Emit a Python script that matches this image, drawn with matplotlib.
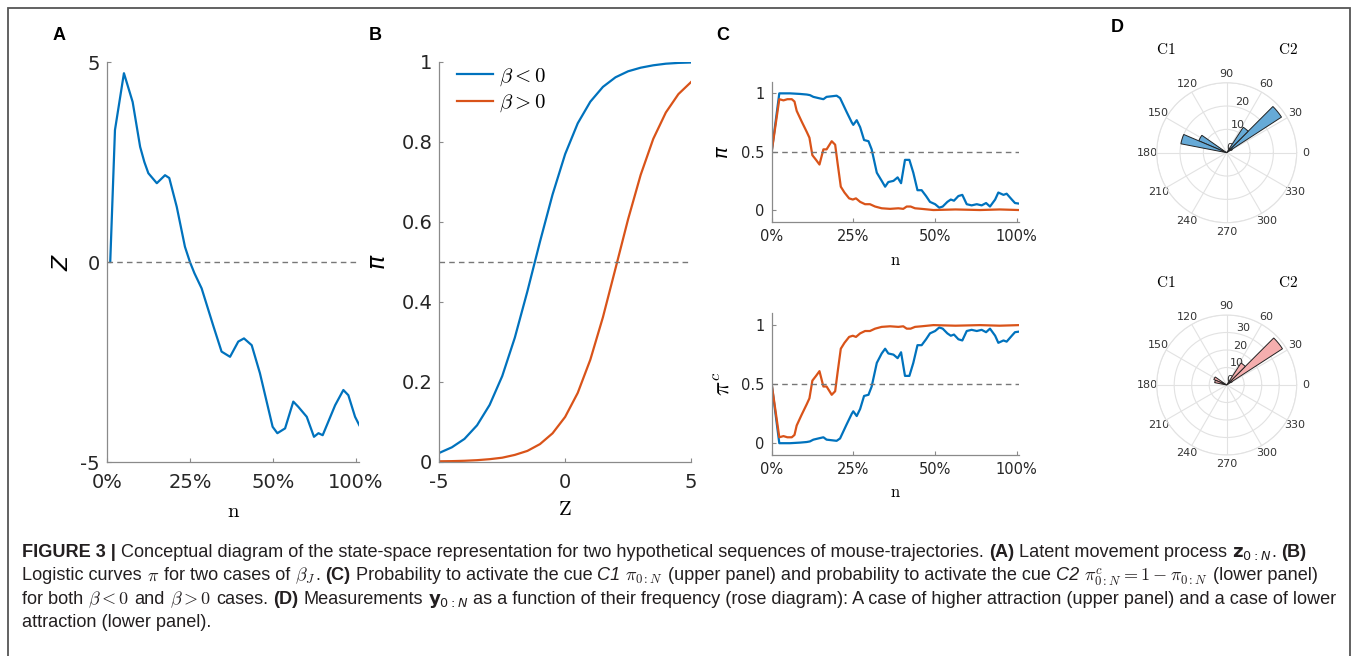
import matplotlib
matplotlib.use('Agg')
import matplotlib.pyplot as plt
import numpy as np
from matplotlib.patches import Rectangle

W, H = 1358, 656
BLUE = '#0072BD'
RED = '#D95319'
GRAY = '#8a8a8a'

# panel A: latent process z over n (n as fraction of the axis, ticks are evenly spaced)
n_a = [0.013, 0.032, 0.068, 0.103, 0.133, 0.150, 0.166, 0.200, 0.233, 0.250, 0.280, 0.313,
       0.333, 0.351, 0.380, 0.427, 0.460, 0.494, 0.527, 0.550, 0.581, 0.614, 0.665, 0.684,
       0.715, 0.748, 0.768, 0.802, 0.831, 0.849, 0.866, 0.916, 0.949, 0.969, 0.996, 1.013]
z_a = [0, 3.3, 4.72, 4.0, 2.88, 2.5, 2.22, 1.97, 2.17, 2.1, 1.38, 0.38,
       0, -0.28, -0.66, -1.6, -2.24, -2.37, -1.99, -1.91, -2.08, -2.78, -4.12, -4.28,
       -4.16, -3.49, -3.62, -3.87, -4.37, -4.28, -4.33, -3.58, -3.2, -3.33, -3.87, -4.08]
pct_pos = [0, 1/3, 2/3, 1]
pct_labels = ['0%', '25%', '50%', '100%']

# panel B: logistic curves read at Z = -5 .. 5 (step 0.5)
z_b = [-5, -4.5, -4, -3.5, -3, -2.5, -2, -1.5, -1, -0.5, 0, 0.5, 1, 1.5, 2, 2.5, 3, 3.5, 4, 4.5, 5]
pi_neg = [0.022, 0.036, 0.057, 0.091, 0.142, 0.214, 0.310, 0.426, 0.550, 0.668, 0.769, 0.846,
          0.900, 0.937, 0.961, 0.976, 0.985, 0.991, 0.995, 0.997, 0.998]
pi_pos = [0.001, 0.0014, 0.0023, 0.0038, 0.0063, 0.010, 0.017, 0.027, 0.044, 0.071, 0.112, 0.172,
          0.255, 0.361, 0.483, 0.606, 0.717, 0.807, 0.873, 0.919, 0.949]

# panel C: probability of activating C1 (upper) and C2 (lower)
n_c_blue = [0.0, 0.031, 0.075, 0.116, 0.143, 0.156, 0.17, 0.19, 0.211, 0.224, 0.245, 0.265,
            0.279, 0.306, 0.327, 0.333, 0.347, 0.361, 0.377, 0.395, 0.408, 0.429, 0.449, 0.463,
            0.476, 0.497, 0.514, 0.528, 0.544, 0.562, 0.578, 0.595, 0.612, 0.63, 0.646, 0.667,
            0.684, 0.698, 0.717, 0.731, 0.744, 0.762, 0.778, 0.796, 0.816, 0.837, 0.857, 0.875,
            0.891, 0.912, 0.925, 0.946, 0.959, 0.98, 0.993, 1.01]
pi_blue = [0.5, 1.0, 1.0, 0.995, 0.99, 0.985, 0.97, 0.96, 0.95, 0.97, 0.975, 0.98,
           0.96, 0.84, 0.75, 0.73, 0.77, 0.71, 0.6, 0.59, 0.52, 0.32, 0.25, 0.2,
           0.24, 0.25, 0.28, 0.23, 0.43, 0.43, 0.32, 0.17, 0.17, 0.12, 0.07, 0.05,
           0.02, 0.03, 0.07, 0.09, 0.08, 0.12, 0.13, 0.05, 0.04, 0.05, 0.04, 0.06,
           0.03, 0.09, 0.15, 0.13, 0.14, 0.09, 0.06, 0.055]
pic_blue = [0.5, 0.0, 0.0, 0.005, 0.01, 0.015, 0.03, 0.04, 0.05, 0.03, 0.025, 0.02,
            0.04, 0.16, 0.25, 0.27, 0.23, 0.29, 0.4, 0.41, 0.48, 0.68, 0.76, 0.8,
            0.76, 0.75, 0.72, 0.77, 0.57, 0.57, 0.68, 0.83, 0.83, 0.88, 0.93, 0.95,
            0.98, 0.97, 0.93, 0.91, 0.92, 0.88, 0.87, 0.95, 0.96, 0.95, 0.96, 0.94,
            0.97, 0.91, 0.85, 0.87, 0.86, 0.91, 0.94, 0.945]
n_c_red = [0.0, 0.031, 0.048, 0.064, 0.082, 0.093, 0.102, 0.122, 0.143, 0.154, 0.166, 0.181,
           0.195, 0.211, 0.224, 0.245, 0.259, 0.269, 0.282, 0.297, 0.316, 0.331, 0.344, 0.361,
           0.381, 0.401, 0.422, 0.449, 0.483, 0.517, 0.537, 0.551, 0.567, 0.585, 0.612, 0.66,
           0.75, 0.85, 0.93, 1.01]
pi_red = [0.5, 0.95, 0.94, 0.95, 0.95, 0.93, 0.85, 0.76, 0.67, 0.62, 0.47, 0.43,
          0.39, 0.52, 0.52, 0.59, 0.56, 0.4, 0.2, 0.15, 0.1, 0.09, 0.1, 0.07,
          0.05, 0.05, 0.03, 0.015, 0.01, 0.015, 0.01, 0.03, 0.03, 0.015, 0.01, 0.0,
          0.005, 0.0, 0.005, 0.0]
pic_red = [0.5, 0.05, 0.06, 0.05, 0.05, 0.07, 0.15, 0.24, 0.33, 0.38, 0.53, 0.57,
           0.61, 0.48, 0.48, 0.41, 0.44, 0.6, 0.8, 0.85, 0.9, 0.91, 0.9, 0.93,
           0.95, 0.95, 0.97, 0.985, 0.99, 0.985, 0.99, 0.97, 0.97, 0.985, 0.99, 1.0,
           0.995, 1.0, 0.995, 1.0]

# panel D: rose diagrams (bin centre in degrees, counts)
rose_theta = [39, 51, 151, 163]
rose_width = 12
rose_high = [28, 13, 13, 20]
rose_low = [38, 15, 8, 7]
angle_labels = [str(a) for a in range(0, 360, 30)]

fig = plt.figure(figsize=(W / 100, H / 100), dpi=100)


def box(x0, y0, x1, y1, **kw):
    return fig.add_axes([x0 / W, 1 - y1 / H, (x1 - x0) / W, (y1 - y0) / H], **kw)


def style(ax, size, xpad):
    for s in ['top', 'right']:
        ax.spines[s].set_visible(False)
    for s in ['left', 'bottom']:
        ax.spines[s].set_color(GRAY)
        ax.spines[s].set_linewidth(0.9)
    ax.tick_params(direction='in', length=3, width=0.8, color=GRAY,
                   labelsize=size, labelcolor='#262626')
    ax.tick_params(axis='x', pad=xpad)
    ax.tick_params(axis='y', pad=5)


def labels(ax, xl, yl, xpos, ypos, xkw, ykw):
    lx = ax.set_xlabel(xl, **xkw)
    ly = ax.set_ylabel(yl, **ykw)
    ax.xaxis.set_label_coords(*xpos)
    ax.yaxis.set_label_coords(*ypos)
    lx.set_va('center')
    ly.set_va('center')


# ---- A
axA = box(107, 62, 359.3, 462)
axA.plot(n_a, z_a, color=BLUE, lw=1.6)
axA.axhline(0, color='#777777', lw=1, ls=(0, (4, 3)))
axA.set_xlim(0, 1.013)
axA.set_ylim(-5, 5)
axA.set_xticks(pct_pos, pct_labels)
axA.set_yticks([-5, 0, 5], ['-5', '0', '5'])
style(axA, 14, 8)
labels(axA, r'$\mathrm{n}$', r'$Z$', (0.5, -0.1225), (-0.178, 0.5),
       dict(fontsize=15, math_fontfamily='cm'), dict(fontsize=16, math_fontfamily='dejavusans'))

# ---- B
axB = box(439.3, 61.7, 691, 461.7)
axB.plot(z_b, pi_neg, color=BLUE, lw=1.6, label=r'$\beta < 0$')
axB.plot(z_b, pi_pos, color=RED, lw=1.6, label=r'$\beta > 0$')
axB.axhline(0.5, color='#777777', lw=1, ls=(0, (4, 3)))
axB.set_xlim(-5, 5)
axB.set_ylim(0, 1)
axB.set_xticks([-5, 0, 5], ['-5', '0', '5'])
axB.set_yticks([0, 0.2, 0.4, 0.6, 0.8, 1], ['0', '0.2', '0.4', '0.6', '0.8', '1'])
style(axB, 14, 8)
labels(axB, r'$\mathrm{Z}$', r'$\pi$', (0.5, -0.118), (-0.244, 0.5),
       dict(fontsize=15, math_fontfamily='cm'), dict(fontsize=17, math_fontfamily='dejavusans'))
axB.legend(loc='upper left', bbox_to_anchor=(0.07, 0.99), frameon=False, borderpad=0,
           borderaxespad=0, handlelength=1.75, handletextpad=0.25, labelspacing=0.2,
           prop=dict(size=15, math_fontfamily='cm'))

# ---- C
for (y0, y1, pb, pr, yl, ykw, xly) in [
        (81.7, 221.7, pi_blue, pi_red, r'$\pi$',
         dict(fontsize=14, math_fontfamily='dejavusans'), -0.274),
        (313.3, 455, pic_blue, pic_red, r'$\pi^c$',
         dict(fontsize=17, math_fontfamily='cm'), -0.259)]:
    ax = box(771.7, y0, 1019.3, y1)
    ax.plot(n_c_blue, pb, color=BLUE, lw=1.6)
    ax.plot(n_c_red, pr, color=RED, lw=1.6)
    ax.axhline(0.5, color='#777777', lw=1, ls=(0, (4, 3)))
    ax.set_xlim(0, 1.0106)
    ax.set_ylim(-0.1, 1.1)
    ax.set_xticks(pct_pos, pct_labels)
    ax.set_yticks([0, 0.5, 1], ['0', '0.5', '1'])
    style(ax, 10.5, 5)
    labels(ax, r'$\mathrm{n}$', yl, (0.5, xly), (-0.197, 0.5),
           dict(fontsize=12, math_fontfamily='cm'), ykw)

# ---- D
for (y0, counts, fc, rmax, rt, rl, cy) in [
        (82.7, rose_high, '#66AAD7', 30, [0, 10, 20, 30], ['0', '10', '20', ''], 50),
        (315, rose_low, '#F5AEAE', 40, [0, 10, 20, 30, 40], ['0', '10', '20', '30', ''], 282)]:
    ax = box(1156.7, y0, 1296.7, y0 + 140, projection='polar')
    ax.bar(np.deg2rad(rose_theta), counts, width=np.deg2rad(rose_width), bottom=0,
           color=fc, edgecolor='#222222', lw=0.7, zorder=3)
    ax.set_thetagrids(range(0, 360, 30), angle_labels)
    ax.set_rlim(0, rmax)
    ax.set_rticks(rt)
    ax.set_yticklabels(rl)
    ax.set_rlabel_position(80)
    ax.tick_params(axis='both', labelsize=8, labelcolor='#333333')
    ax.tick_params(axis='x', pad=-4)
    ax.grid(color='#e2e2e2', lw=0.8)
    ax.spines['polar'].set_color('#e2e2e2')
    fig.text(1166 / W, 1 - cy / H, r'$\mathrm{C1}$', fontsize=11, math_fontfamily='cm',
             ha='center', va='center')
    fig.text(1288 / W, 1 - cy / H, r'$\mathrm{C2}$', fontsize=11, math_fontfamily='cm',
             ha='center', va='center')

# panel letters
for letter, x, y in [('A', 59, 35), ('B', 375, 35), ('C', 723, 35), ('D', 1117, 27)]:
    fig.text(x / W, 1 - y / H, letter, fontsize=13, weight='bold', family='Liberation Sans',
             ha='center', va='center')

# outer frame
fig.add_artist(Rectangle((8 / W, -0.1), 1342 / W, 1.1 - 8 / H, transform=fig.transFigure,
                         fill=False, ec='#555555', lw=1.3))

# caption
renderer = fig.canvas.get_renderer()
B = dict(weight='bold')
I = dict(style='italic')
CM = dict(math_fontfamily='cm')
DV = dict(math_fontfamily='dejavusans')


def base(size):
    return dict(family=['Liberation Sans', 'DejaVu Sans'], color='#231f20', fontsize=size)


def width(s, size):
    t = fig.text(0, 0, s, **base(size))
    w = t.get_window_extent(renderer).width
    t.remove()
    return w


def rich(y, runs, size, x=22, draw=True):
    sp = width('x x', size) - width('xx', size)
    for s, kw in runs:
        if s.strip() == '':
            x += len(s) * sp
            continue
        lead = len(s) - len(s.lstrip(' '))
        trail = len(s) - len(s.rstrip(' '))
        x += lead * sp
        t = fig.text(x / W, 1 - y / H, s.strip(), ha='left', va='baseline',
                     **{**base(size), **kw})
        x += t.get_window_extent(renderer).width + trail * sp
        if not draw:
            t.remove()
    return x


line1 = [('FIGURE 3 |', B),
         (' Conceptual diagram of the state-space representation for two hypothetical '
          'sequences of mouse-trajectories. ', {}),
         ('(A)', B), (' Latent movement process ', {}), (r'$\mathbf{z}_{0:N}$', DV),
         ('. ', {}), ('(B)', B)]
line2 = [('Logistic curves ', {}), (r'$\pi$', CM), (' for two cases of ', {}),
         (r'$\beta_J$', CM), ('. ', {}), ('(C)', B),
         (' Probability to activate the cue ', {}), ('C1', I), (' ', {}),
         (r'$\pi_{0:N}$', CM),
         (' (upper panel) and probability to activate the cue ', {}), ('C2', I),
         (' ', {}), (r'$\pi^c_{0:N} = 1 - \pi_{0:N}$', CM), (' (lower panel)', {})]
line3 = [('for both ', {}), (r'$\beta < 0$', CM), (' and ', {}), (r'$\beta > 0$', CM),
         (' cases. ', {}), ('(D)', B), (' Measurements ', {}), (r'$\mathbf{y}_{0:N}$', DV),
         (' as a function of their frequency (rose diagram): A case of higher attraction '
          '(upper panel) and a case of lower', {})]
line4 = [('attraction (lower panel).', {})]

# fit the caption font so the third line spans the caption width
cap = 10 * 1326 / (rich(0, line3, 10, draw=False) - 22)
for y, line in [(557, line1), (580.5, line2), (604, line3), (627, line4)]:
    rich(y, line, cap)

fig.savefig('out.png', dpi=100)
